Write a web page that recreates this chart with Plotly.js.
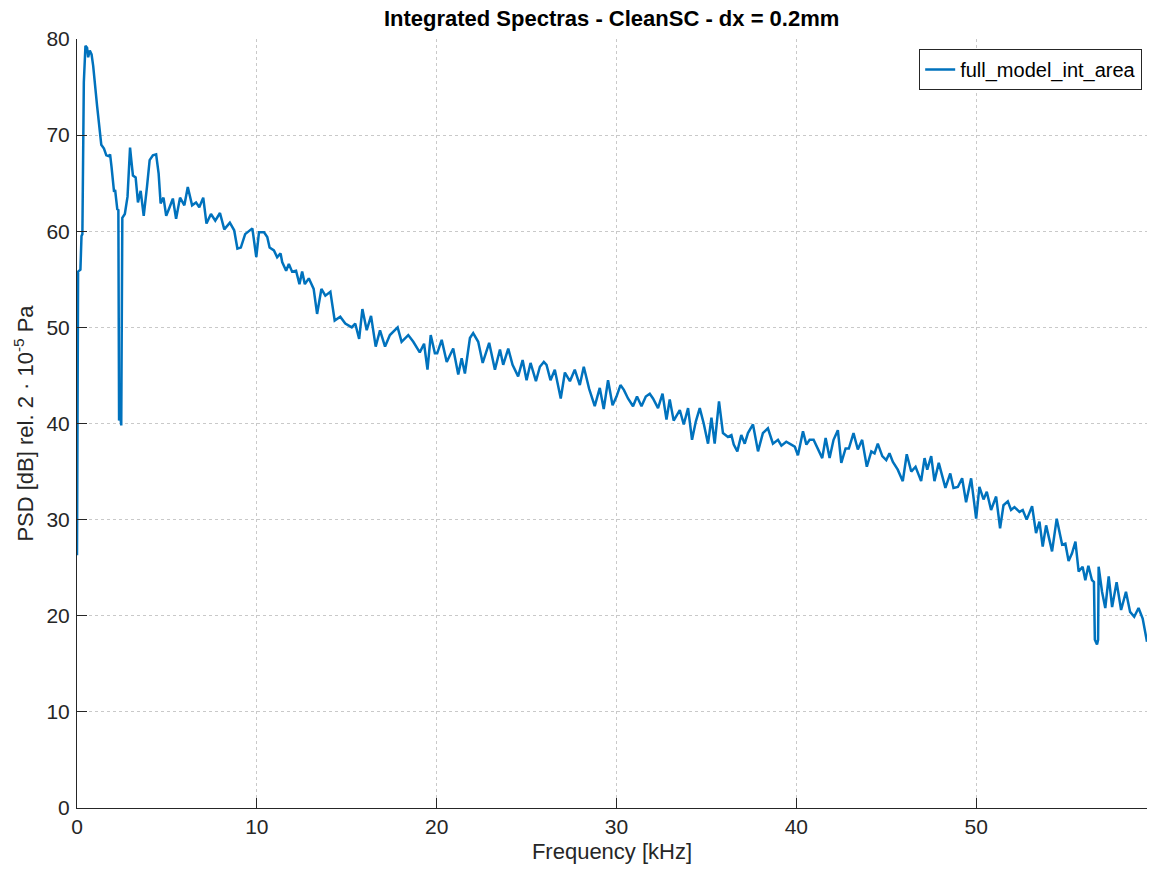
<!DOCTYPE html>
<html>
<head>
<meta charset="utf-8">
<script src="https://cdn.plot.ly/plotly-3.0.1.min.js"></script>
<style>html,body{margin:0;padding:0;background:#fff;}#chart{width:1149px;height:877px;}</style>
</head>
<body>
<div id="chart"></div>
<script>
const seriesName = "full_model_int_area";
const freqKHz = [
  0, 0.06, 0.19, 0.25, 0.3, 0.38, 0.47, 0.56, 0.62, 0.71, 0.81, 0.9, 1.12, 1.35, 1.5, 1.63, 1.78, 1.84, 1.92, 1.97, 2.06, 2.12, 2.24, 2.3,
  2.34, 2.38, 2.42, 2.46, 2.52, 2.66, 2.81, 2.95, 3.02, 3.11, 3.26, 3.39, 3.54, 3.71, 3.89, 4.04, 4.22, 4.4, 4.54, 4.65, 4.81, 4.96,
  5.15, 5.33, 5.51, 5.73, 5.97, 6.16, 6.4, 6.62, 6.8, 7.02, 7.2, 7.45, 7.69, 7.95, 8.19, 8.5, 8.74, 8.92, 9.11, 9.35, 9.75, 9.97,
  10.12, 10.4, 10.58, 10.71, 10.95, 11.13, 11.32, 11.41, 11.63, 11.78, 11.96, 12.18, 12.37, 12.52, 12.67, 12.89, 13.16, 13.35, 13.59,
  13.81, 14.09, 14.33, 14.64, 14.92, 15.28, 15.47, 15.69, 15.87, 16.11, 16.35, 16.61, 16.85, 17.13, 17.4, 17.83, 18.05, 18.42, 18.7,
  19.06, 19.3, 19.49, 19.67, 19.9, 20.03, 20.28, 20.56, 20.92, 21.2, 21.39, 21.57, 21.85, 22.03, 22.31, 22.56, 22.92, 23.24, 23.52,
  23.7, 23.98, 24.22, 24.53, 24.78, 25.0, 25.22, 25.52, 25.74, 25.96, 26.11, 26.33, 26.57, 26.9, 27.13, 27.41, 27.68, 27.96, 28.18,
  28.48, 28.79, 29.07, 29.29, 29.53, 29.78, 30.0, 30.22, 30.41, 30.64, 30.92, 31.14, 31.39, 31.63, 31.85, 32.03, 32.31, 32.56, 32.78,
  32.96, 33.18, 33.52, 33.74, 33.98, 34.2, 34.41, 34.63, 34.85, 35.09, 35.28, 35.46, 35.7, 35.92, 36.2, 36.39, 36.52, 36.72, 36.94,
  37.13, 37.31, 37.59, 37.87, 38.14, 38.42, 38.7, 38.98, 39.17, 39.44, 39.72, 39.91, 40.09, 40.37, 40.56, 40.74, 40.96, 41.2, 41.44,
  41.63, 41.85, 42.07, 42.31, 42.5, 42.74, 42.92, 43.18, 43.42, 43.66, 43.92, 44.17, 44.35, 44.53, 44.78, 45.0, 45.18, 45.37, 45.64,
  45.92, 46.14, 46.39, 46.63, 46.94, 47.13, 47.28, 47.5, 47.68, 47.92, 48.29, 48.56, 48.74, 48.98, 49.22, 49.44, 49.72, 50.0, 50.18,
  50.41, 50.59, 50.83, 51.11, 51.33, 51.52, 51.76, 51.94, 52.13, 52.41, 52.59, 52.81, 53.11, 53.33, 53.52, 53.7, 53.89, 54.22, 54.48,
  54.78, 54.96, 55.14, 55.33, 55.52, 55.7, 55.92, 56.07, 56.24, 56.44, 56.55, 56.6, 56.67, 56.72, 56.78, 56.81, 57.0, 57.18, 57.37,
  57.56, 57.81, 58.06, 58.33, 58.56, 58.79, 59.03, 59.26, 59.44, 59.5
];
const psdDb = [
  26.3, 55.8, 56.0, 59.5, 59.7, 75.5, 79.3, 79.1, 78.1, 78.8, 78.4, 77.2, 73.0, 69.0, 68.6, 67.9, 67.8, 68.0, 66.7, 65.5, 64.1, 64.3, 62.3, 62.2,
  40.3, 41.3, 40.1, 39.8, 61.4, 61.8, 63.6, 68.7, 67.4, 65.8, 65.6, 63.0, 64.2, 61.6, 64.6, 67.4, 67.9, 68.0, 66.0, 62.9, 63.5, 61.6,
  62.5, 63.4, 61.3, 63.5, 62.7, 64.6, 62.7, 63.0, 62.5, 63.5, 60.8, 61.8, 61.1, 61.9, 60.2, 60.9, 60.1, 58.2, 58.3, 59.7, 60.3, 57.3,
  59.9, 59.9, 59.4, 58.3, 58.0, 57.3, 57.7, 56.8, 55.9, 56.6, 55.8, 55.9, 54.5, 55.8, 54.5, 55.1, 54.0, 51.4, 54.0,
  53.3, 53.7, 50.7, 51.1, 50.4, 50.0, 50.4, 48.8, 51.9, 49.7, 51.2, 48.0, 49.7, 48.0, 49.2, 50.0, 48.5, 49.2, 48.5,
  47.4, 48.3, 45.6, 49.2, 47.3, 47.3, 48.7, 46.4, 47.8, 45.1, 46.8, 45.2, 48.9, 49.4, 48.5, 46.3, 48.4, 45.6, 47.7,
  46.1, 47.8, 46.1, 44.9, 46.6, 44.5, 46.3, 44.4, 45.9, 46.4, 46.1, 44.5, 45.6, 42.6, 45.3, 44.4, 45.6, 44.0, 45.9,
  43.6, 41.8, 43.7, 41.5, 44.5, 41.9, 42.8, 44.0, 43.5, 42.6, 41.8, 42.8, 41.8, 42.8, 43.1, 42.6, 41.6, 43.1, 40.4,
  42.5, 40.3, 41.4, 39.9, 41.6, 38.3, 40.2, 41.6, 40.0, 37.9, 40.6, 37.9, 42.3, 39.0, 38.6, 38.8, 37.8, 37.1, 38.8,
  37.9, 39.0, 39.9, 37.1, 39.0, 39.5, 37.9, 38.3, 37.7, 38.1, 37.8, 37.6, 36.7, 39.2, 37.8, 38.3, 38.3, 37.4, 36.4,
  38.5, 36.4, 38.3, 39.3, 35.9, 37.4, 37.4, 39.0, 37.3, 38.3, 35.5, 37.1, 36.9, 37.9, 36.6, 36.2, 36.9, 36.0, 35.2,
  34.0, 36.8, 35.0, 35.5, 34.0, 36.4, 35.2, 36.6, 34.0, 35.9, 33.3, 34.8, 33.3, 33.4, 34.3, 31.8, 34.3, 30.1, 33.4,
  32.1, 32.9, 31.0, 32.4, 29.1, 31.5, 31.9, 31.0, 31.3, 30.8, 31.0, 30.0, 31.4, 28.6, 29.8, 27.2, 29.4, 26.7, 30.1,
  27.4, 27.5, 25.7, 26.5, 27.7, 24.6, 25.1, 23.7, 25.2, 23.7, 23.5, 17.5, 17.2, 17.0, 17.5, 25.1, 22.5, 20.8, 24.1,
  20.9, 23.5, 20.6, 22.5, 20.4, 19.9, 20.8, 19.7, 17.7, 17.3
];
const xTicks = [0, 10, 20, 30, 40, 50];
const yTicks = [0, 10, 20, 30, 40, 50, 60, 70, 80];

const textColor = '#262626';
const gridColor = 'rgba(38,38,38,0.25)';
const fontFam = '"Liberation Sans", Arial, Helvetica, sans-serif';

const trace = {
  x: freqKHz, y: psdDb, type: 'scatter', mode: 'lines', name: seriesName,
  line: {color: '#0072BD', width: 2.5}
};

const layout = {
  width: 1149, height: 877,
  margin: {l: 77, r: 2, t: 39, b: 69},
  paper_bgcolor: '#fff', plot_bgcolor: '#fff',
  font: {family: fontFam, color: textColor, size: 21},
  title: {text: '<b>Integrated Spectras - CleanSC - dx = 0.2mm</b>', x: 0.5323, xanchor: 'center', y: 0.979, yanchor: 'middle',
          font: {family: fontFam, size: 22, color: '#000'}},
  showlegend: true,
  legend: {x: 0.9955, xanchor: 'right', y: 0.987, yanchor: 'top', bgcolor: '#fff', bordercolor: textColor, borderwidth: 1,
           font: {family: fontFam, size: 20, color: '#000'}, tracegroupgap: 0, itemwidth: 30},
  xaxis: {
    range: [0, 59.5], tickvals: xTicks, ticktext: xTicks.map(String),
    showline: true, linecolor: textColor, linewidth: 1, mirror: false,
    ticks: 'inside', ticklen: 10, tickcolor: textColor, tickwidth: 1,
    showgrid: true, gridcolor: gridColor, griddash: 'dot', gridwidth: 1, zeroline: false,
    tickfont: {family: fontFam, size: 21, color: textColor},
    title: {text: 'Frequency [kHz]', font: {family: fontFam, size: 22, color: textColor}, standoff: 6},
    automargin: false
  },
  yaxis: {
    range: [0, 80], tickvals: yTicks, ticktext: yTicks.map(String),
    showline: true, linecolor: textColor, linewidth: 1, mirror: false,
    ticks: 'inside', ticklen: 10, tickcolor: textColor, tickwidth: 1,
    showgrid: true, gridcolor: gridColor, griddash: 'dot', gridwidth: 1, zeroline: false,
    tickfont: {family: fontFam, size: 21, color: textColor}, ticklabelstandoff: 2,
    title: {text: 'PSD [dB] rel. 2 · 10<sup>-5</sup> Pa', font: {family: fontFam, size: 22, color: textColor}, standoff: 6},
    automargin: false
  }
};

Plotly.newPlot('chart', [trace], layout, {displayModeBar: false, staticPlot: true});
</script>
</body>
</html>
